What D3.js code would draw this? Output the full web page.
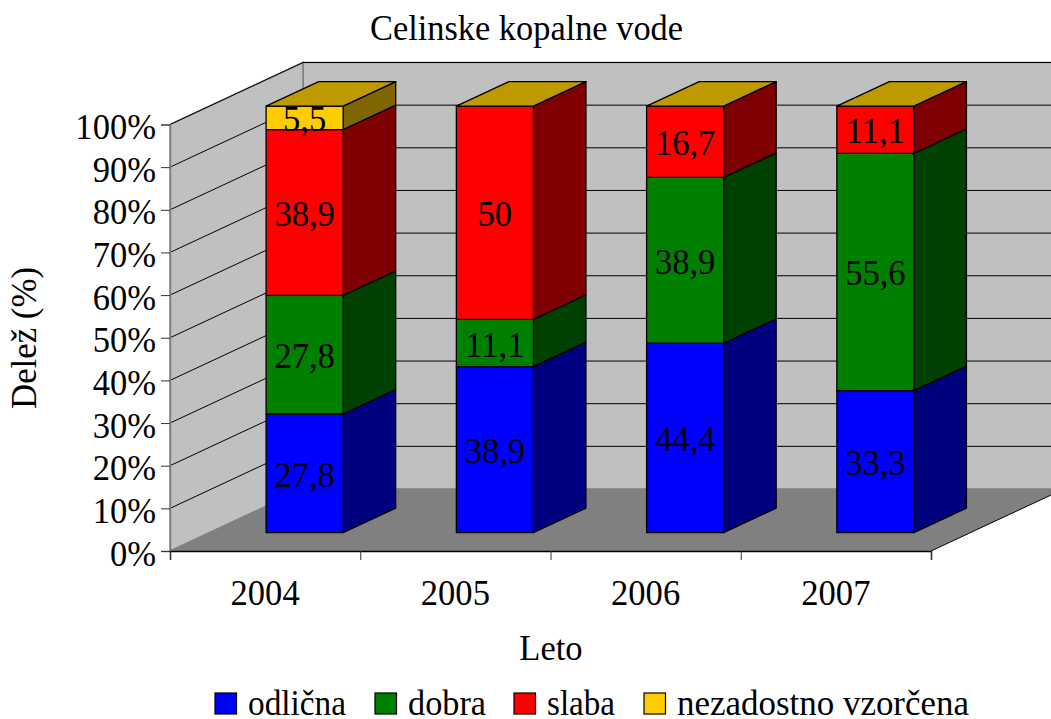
<!DOCTYPE html>
<html>
<head>
<meta charset="utf-8">
<script src="https://cdn.jsdelivr.net/npm/d3@7"></script>
<style>
  html, body { margin: 0; padding: 0; background: #fff; overflow: hidden; }
  text { font-family: "Liberation Serif", serif; fill: #000; }
</style>
</head>
<body>
<div id="chart"></div>
<script>
const years = ["2004", "2005", "2006", "2007"];
const seriesNames = ["odlična", "dobra", "slaba", "nezadostno vzorčena"];
const odlicna = [27.8, 38.9, 44.4, 33.3];
const dobra = [27.8, 11.1, 38.9, 55.6];
const slaba = [38.9, 50, 16.7, 11.1];
const nezadostno = [5.5, 0, 0, 0];
const yTicks = [0, 10, 20, 30, 40, 50, 60, 70, 80, 90, 100];

const frontColors = ["#0000ff", "#008000", "#ff0000", "#ffcc00"];
const sideColors = ["#00007f", "#004000", "#7f0000", "#7f6600"];
const topColor = "#bf9900";

const width = 1051, height = 719;
const margin = {left: 170, right: 931, top: 124.5, bottom: 551};
const fontSize = 36;

const svg = d3.select("#chart")
    .append("svg")
    .attr("width", width)
    .attr("height", height);

// the reference text is a bit narrow for its height, so squeeze the glyphs
function squeeze(sel, k = 0.96) {
    sel.each(function() {
        d3.select(this)
            .attr("textLength", this.getComputedTextLength() * k)
            .attr("lengthAdjust", "spacingAndGlyphs");
    });
}

// scales: x and y on the front plane, depth goes to the back wall (0..1)
const x = d3.scaleBand()
    .domain(years)
    .range([margin.left, margin.right])
    .paddingInner(0.595)
    .paddingOuter(0.2975);
const y = d3.scaleLinear().domain([0, 100]).range([margin.bottom, margin.top]);
const depthX = d3.scaleLinear().domain([0, 1]).range([0, 133]);
const depthY = d3.scaleLinear().domain([0, 1]).range([0, -62]);
const barFront = 0.297, barBack = 0.692;

const pt = (px, value, d) => [px + depthX(d), y(value) + depthY(d)];
const poly = pts => pts.map(p => p.join(",")).join(" ");

const clip = svg.append("defs").append("clipPath").attr("id", "page");
clip.append("rect").attr("width", width).attr("height", height);
const plot = svg.append("g").attr("clip-path", "url(#page)");

// floor and walls
const xl = margin.left, xr = margin.right;
plot.append("polygon")
    .attr("points", poly([pt(xl, 0, 1), pt(xr, 0, 1), pt(xr, 100, 1), pt(xl, 100, 1)]))
    .attr("fill", "#c0c0c0").attr("stroke", "#808080").attr("stroke-width", 1.5);
plot.append("polygon")
    .attr("points", poly([pt(xl, 0, 0), pt(xl, 0, 1), pt(xl, 100, 1), pt(xl, 100, 0)]))
    .attr("fill", "#c0c0c0").attr("stroke", "#808080").attr("stroke-width", 1.5);
plot.append("polygon")
    .attr("points", poly([pt(xl, 0, 0), pt(xr, 0, 0), pt(xr, 0, 1), pt(xl, 0, 1)]))
    .attr("fill", "#808080").attr("stroke", "none");

// gridlines on the walls
const grid = yTicks.filter(t => t > 0);
plot.selectAll("polyline.grid")
    .data(grid)
    .join("polyline")
    .attr("class", "grid")
    .attr("points", d => poly([pt(xl, d, 0), pt(xl, d, 1), pt(xr, d, 1)]))
    .attr("fill", "none")
    .attr("stroke", "#000")
    .attr("stroke-width", 1);

// floor front-right edge
plot.append("line")
    .attr("x1", pt(xr, 0, 0)[0]).attr("y1", pt(xr, 0, 0)[1])
    .attr("x2", pt(xr, 0, 1)[0]).attr("y2", pt(xr, 0, 1)[1])
    .attr("stroke", "#000").attr("stroke-width", 1);

// stacked bars
const rows = years.map((yr, i) => ({
    year: yr, s0: odlicna[i], s1: dobra[i], s2: slaba[i], s3: nezadostno[i]
}));
const stacked = d3.stack().keys(["s0", "s1", "s2", "s3"])(rows);

const bars = plot.append("g")
    .attr("stroke", "#000")
    .attr("stroke-width", 1.3)
    .attr("stroke-linejoin", "round");

stacked.forEach((layer, k) => {
    layer.forEach(d => {
        if (d[1] - d[0] <= 0) return;
        const x0 = x(d.data.year), x1 = x0 + x.bandwidth();
        // side face
        bars.append("polygon")
            .attr("points", poly([pt(x1, d[0], barFront), pt(x1, d[0], barBack), pt(x1, d[1], barBack), pt(x1, d[1], barFront)]))
            .attr("fill", sideColors[k]);
        // front face
        bars.append("polygon")
            .attr("points", poly([pt(x0, d[0], barFront), pt(x1, d[0], barFront), pt(x1, d[1], barFront), pt(x0, d[1], barFront)]))
            .attr("fill", frontColors[k]);
    });
});

// top faces, the zero height last series sits on top of every bar
bars.selectAll("polygon.top")
    .data(rows)
    .join("polygon")
    .attr("class", "top")
    .attr("points", d => {
        const x0 = x(d.year), x1 = x0 + x.bandwidth();
        return poly([pt(x0, 100, barFront), pt(x1, 100, barFront), pt(x1, 100, barBack), pt(x0, 100, barBack)]);
    })
    .attr("fill", topColor);

// value labels on the front faces
const labels = svg.append("g")
    .attr("font-size", fontSize)
    .attr("text-anchor", "middle");
stacked.forEach(layer => {
    layer.forEach(d => {
        const v = d[1] - d[0];
        if (v <= 0) return;
        const p = pt(x(d.data.year) + x.bandwidth() / 2, (d[0] + d[1]) / 2, barFront);
        labels.append("text")
            .attr("x", p[0])
            .attr("y", p[1] + 13.5)
            .text(String(+v.toFixed(1)).replace(".", ","));
    });
});
squeeze(labels.selectAll("text"));

// y axis
const yAxis = svg.append("g")
    .attr("transform", `translate(${margin.left},0)`)
    .call(d3.axisLeft(y).tickValues(yTicks).tickSize(9).tickPadding(5).tickFormat(d => d + "%"));
yAxis.select(".domain").attr("stroke", "#808080").attr("stroke-width", 1.5);
yAxis.selectAll("line").attr("stroke", "#333").attr("stroke-width", 1);
yAxis.selectAll("text").attr("font-size", fontSize).attr("dy", "14px");
squeeze(yAxis.selectAll("text"));

// x axis, ticks sit on the band edges so labels and ticks are handled apart
const xEdges = d3.scaleLinear().domain([0, years.length]).range([margin.left, margin.right]);
const xAxis = svg.append("g")
    .attr("transform", `translate(0,${margin.bottom})`)
    .call(d3.axisBottom(xEdges).ticks(years.length).tickSize(9).tickFormat(""));
xAxis.select(".domain").attr("stroke", "#000").attr("stroke-width", 1.5);
xAxis.selectAll("line").attr("stroke", "#333").attr("stroke-width", 1);

const yearLabels = svg.append("g")
    .attr("font-size", fontSize)
    .attr("text-anchor", "middle")
    .selectAll("text")
    .data(years)
    .join("text")
    .attr("x", d => x(d) + x.bandwidth() / 2)
    .attr("y", 605)
    .text(d => d);
squeeze(yearLabels);

// titles
svg.append("text").attr("x", 526.5).attr("y", 40).attr("text-anchor", "middle")
    .attr("font-size", fontSize).text("Celinske kopalne vode")
    .attr("textLength", 313).attr("lengthAdjust", "spacingAndGlyphs");
svg.append("text").attr("x", 551).attr("y", 660).attr("text-anchor", "middle")
    .attr("font-size", fontSize).text("Leto")
    .call(squeeze);
svg.append("text").attr("transform", "translate(35.5,338) rotate(-90)").attr("text-anchor", "middle")
    .attr("font-size", fontSize).text("Delež (%)")
    .attr("textLength", 142).attr("lengthAdjust", "spacingAndGlyphs");

// legend
const legendX = [215, 375, 514, 644];
const legendW = [98, 78, 68, 292];
const legend = svg.append("g").selectAll("g")
    .data(seriesNames)
    .join("g")
    .attr("transform", (d, i) => `translate(${legendX[i]},693)`);
legend.append("rect")
    .attr("width", 21.5).attr("height", 21)
    .attr("fill", (d, i) => frontColors[i])
    .attr("stroke", "#000").attr("stroke-width", 1.2);
legend.append("text")
    .attr("x", 33).attr("y", 22)
    .attr("font-size", fontSize)
    .attr("textLength", (d, i) => legendW[i])
    .attr("lengthAdjust", "spacingAndGlyphs")
    .text(d => d);
</script>
</body>
</html>
